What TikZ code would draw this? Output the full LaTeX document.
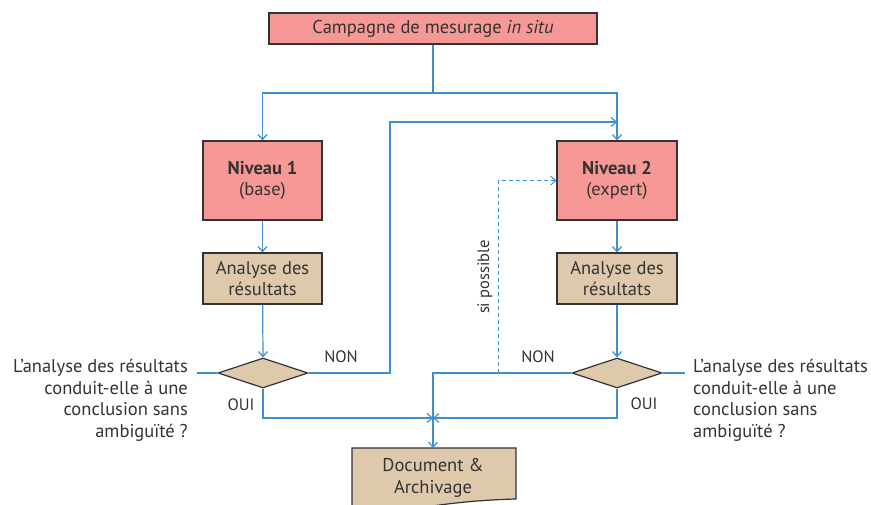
\documentclass[tikz,border=0pt]{standalone}
\usepackage{fontspec}
\setmainfont{PT Sans}
\usetikzlibrary{arrows.meta,shapes.geometric}
\definecolor{pinkf}{HTML}{F59896}
\definecolor{tanf}{HTML}{DEC9AC}
\definecolor{lineb}{HTML}{3D8FD1}
\definecolor{edge}{HTML}{333333}
\definecolor{txt}{HTML}{333333}
\begin{document}
\begin{tikzpicture}[x=1pt,y=-1pt,
  every node/.style={text=txt},
  box/.style={draw=edge, line width=1.2pt, inner sep=0pt, align=center, font=\fontsize{18.5}{21.5}\selectfont},
  pinkbox/.style={box, fill=pinkf},
  tanbox/.style={box, fill=tanf},
  dia/.style={diamond, draw=edge, line width=1.2pt, fill=tanf, inner sep=0pt, minimum width=90pt, minimum height=30pt},
  conn/.style={draw=lineb, line width=1.2pt},
  arr/.style={conn, -{Straight Barb[length=5pt,width=9pt]}},
  lbl/.style={font=\fontsize{16.5}{18}\selectfont},
  quest/.style={font=\fontsize{18.5}{21.5}\selectfont, inner sep=0pt}
]
\useasboundingbox (0,0) rectangle (871,505);
\clip (0,0) rectangle (871,505);

\node[pinkbox, minimum width=328pt, minimum height=31pt] (top) at (433,28.5) {Campagne de mesurage \textit{in situ}};
\node[pinkbox, minimum width=119pt, minimum height=79pt] (n1) at (262.5,180.5) {\textbf{Niveau 1}\\(base)};
\node[pinkbox, minimum width=120pt, minimum height=79pt] (n2) at (617,180.5) {\textbf{Niveau 2}\\(expert)};
\node[tanbox, minimum width=119pt, minimum height=51pt] (a1) at (262.5,278.5) {Analyse des\\résultats};
\node[tanbox, minimum width=120pt, minimum height=51pt] (a2) at (617,278.5) {Analyse des\\résultats};
\node[dia] (d1) at (263,373) {};
\node[dia] (d2) at (617,373) {};

% document shape
\fill[tanf] (352,448) -- (516,448) -- (516,499) .. controls (480,500) and (450,503) .. (420,508) -- (352,515) -- cycle;
\draw[edge, line width=1.2pt] (352,515) -- (352,448) -- (516,448) -- (516,499) .. controls (480,500) and (450,503) .. (420,508) -- (400,511);
\node[font=\fontsize{18.5}{21.5}\selectfont, align=center] (doc) at (433,478) {Document \&\\Archivage};
\coordinate (docn) at (433,448);

\coordinate (split) at (433,93);
\coordinate (c1) at (390,122);
\coordinate (c2) at (617,122);
\coordinate (merge) at (433,418);
\coordinate (ds) at (498,373);
\coordinate (q1) at (197,373);
\coordinate (q2) at (685,373);

\draw[conn] (top.south) -- (split);
\draw[arr] (split) -| (n1.north);
\draw[arr] (split) -| (n2.north);
\draw[arr] (n1) -- (a1);
\draw[arr] (n2) -- (a2);
\draw[arr] (a1) -- (d1.north);
\draw[arr] (a2) -- (d2.north);
\draw[arr] (d1.east) -| (c1) -- (c2);
\draw[arr] (d1.south) |- (merge);
\draw[arr] (d2.south) |- (merge);
\draw[conn] (d2.west) -| (merge);
\draw[arr] (merge) -- (docn);
\draw[arr, dashed, dash pattern=on 4pt off 3pt, line width=1pt] (ds) |- (n2.west);
\draw[conn] (d1.west) -- (q1);
\draw[conn] (d2.east) -- (q2);

\node[lbl] (non1) at (341,357) {NON};
\node[lbl] (oui1) at (241,405) {OUI};
\node[lbl] (non2) at (538,357) {NON};
\node[lbl] (oui2) at (644,404) {OUI};
\node[lbl, rotate=90] (sip) at (485,277) {si possible};

\node[quest, align=right, anchor=north east] (t1) at (188,359) {L’analyse des résultats\\conduit-elle à une\\conclusion sans\\ambiguïté ?};
\node[quest, align=left, anchor=north west] (t2) at (693,359) {L’analyse des résultats\\conduit-elle à une\\conclusion sans\\ambiguïté ?};
\end{tikzpicture}
\end{document}
